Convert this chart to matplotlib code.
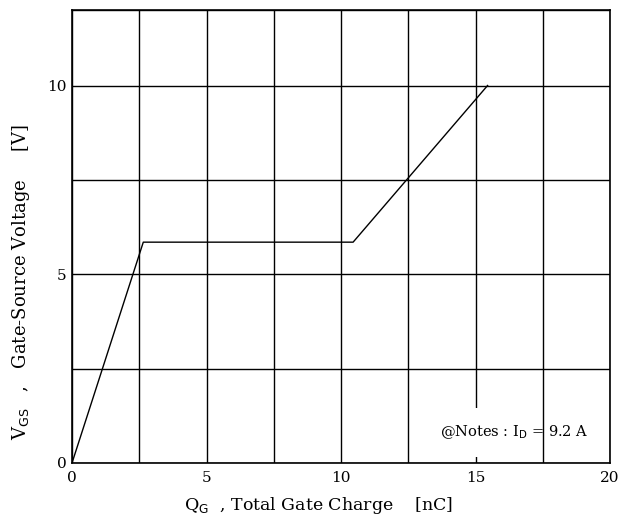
import matplotlib
matplotlib.use("Agg")
import matplotlib.pyplot as plt
from matplotlib.patches import Rectangle

qg = [0.0, 2.65, 10.45, 15.45]
vgs = [0.0, 5.85, 5.85, 10.0]
xticks = [0, 5, 10, 15, 20]
yticks = [0, 5, 10]
xgrid = [0, 2.5, 5, 7.5, 10, 12.5, 15, 17.5, 20]
ygrid = [0, 2.5, 5, 7.5, 10, 12]

plt.rcParams['font.family'] = ['DejaVu Serif']

fig = plt.figure(figsize=(6.22, 5.27), dpi=100)
ax = fig.add_axes([72/622, 64/527, 538/622, 453/527])
ax.set_xlim(0, 20)
ax.set_ylim(0, 12)

for x in xgrid:
    ax.axvline(x, color='black', lw=1.0, zorder=1)
for y in ygrid:
    ax.axhline(y, color='black', lw=1.0, zorder=1)

ax.plot(qg, vgs, color='black', lw=1.0, zorder=3)

ax.set_xticks(xticks)
ax.set_yticks(yticks)
ax.tick_params(length=0, labelsize=11, pad=6)
ax.tick_params(axis='y', pad=4)
for s in ax.spines.values():
    s.set_linewidth(1.2)

ax.set_xlabel(r'Q$_{\rm G}$  , Total Gate Charge    [nC]', fontsize=12.5)
ax.xaxis.set_label_coords(0.459, -0.07)
ax.set_ylabel(r'V$_{\rm GS}$   ,   Gate-Source Voltage     [V]', fontsize=13)
ax.yaxis.set_label_coords(-0.075, 0.40)

ax.add_patch(Rectangle((14.6, 0.17), 0.8, 1.28, facecolor='white', edgecolor='none', zorder=2))
ax.text(16.43, 0.82, r'@Notes : I$_{\rm D}$ = 9.2 A', fontsize=10.5, ha='center', va='center', zorder=4)

fig.savefig('out.png', dpi=100)
